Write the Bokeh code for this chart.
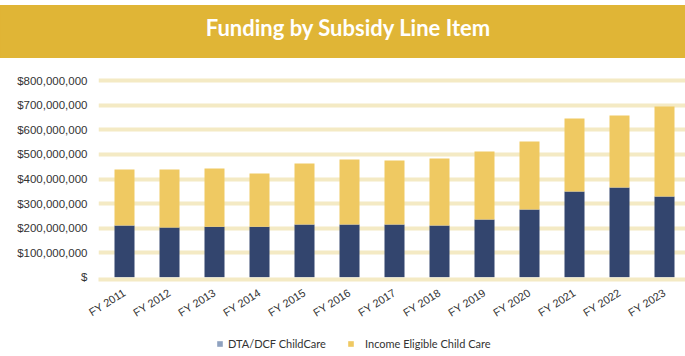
from bokeh.plotting import figure
from bokeh.models import (ColumnDataSource, Range1d, FixedTicker, NumeralTickFormatter,
                          Legend, LegendItem, Spacer)
from bokeh.layouts import column
from bokeh.core.properties import value
from bokeh.embed import file_html
from bokeh.resources import INLINE
import math

# ---- data ----
years = ["FY 2011", "FY 2012", "FY 2013", "FY 2014", "FY 2015", "FY 2016", "FY 2017",
         "FY 2018", "FY 2019", "FY 2020", "FY 2021", "FY 2022", "FY 2023"]
dta_dcf = [211e6, 203e6, 206e6, 206e6, 215e6, 215e6, 215e6, 211e6, 235e6, 276e6, 349e6, 366e6, 329e6]
income_eligible = [228e6, 236e6, 237e6, 216e6, 248e6, 264e6, 260e6, 273e6, 277e6, 277e6, 297e6, 293e6, 366e6]
series_names = ["DTA/DCF ChildCare", "Income Eligible Child Care"]
y_ticks = [0, 1e8, 2e8, 3e8, 4e8, 5e8, 6e8, 7e8, 8e8]
title_text = "Funding by Subsidy Line Item"

BAR_DARK = "#33456E"
BAR_GOLD = "#EFC962"
LEG_BLUE = "#8FA2C0"
BANNER = "#E0B536"
GRID = "#F4EAC4"
TXT = "#333333"

W = 685
LEFT = 98


def strip(height, fill):
    f = figure(width=W, height=height, x_range=Range1d(LEFT, W), y_range=Range1d(0, height),
               toolbar_location=None, output_backend="svg", title=None,
               x_axis_location=None, y_axis_location=None,
               min_border_left=LEFT, min_border_right=0, min_border_top=0, min_border_bottom=0)
    f.grid.visible = False
    f.background_fill_color = fill
    f.border_fill_color = fill
    f.outline_line_color = fill
    f.outline_line_width = 2
    return f


# ---- banner ----
BH = 53
banner = strip(BH, BANNER)
banner.text(x=[348], y=[BH - 22], text=[title_text], text_align="center",
            text_baseline="alphabetic", text_color="white", text_font=value("Lato"),
            text_font_style="bold", text_font_size="22px")

# ---- chart ----
xs = list(range(len(years)))
src = ColumnDataSource(dict(x=xs, dta=dta_dcf, inc=income_eligible))

fw = W - LEFT
x0 = -(124 - LEFT) / 45
p = figure(width=W, height=272, x_range=Range1d(x0, x0 + fw / 45),
           y_range=Range1d(-8.95e6, 841.7e6),
           toolbar_location=None, output_backend="svg",
           min_border_left=LEFT, min_border_right=0, min_border_top=12, min_border_bottom=51)
p.outline_line_color = None
p.background_fill_color = "white"

p.vbar_stack(["dta", "inc"], x="x", width=20 / 45, source=src,
             color=[BAR_DARK, BAR_GOLD], line_color=None)

# y axis
p.yaxis.ticker = FixedTicker(ticks=y_ticks)
p.yaxis.formatter = NumeralTickFormatter(format="$0,0")
p.yaxis.major_label_overrides = {0: "$"}
p.yaxis.axis_line_color = None
p.yaxis.major_tick_line_color = None
p.yaxis.minor_tick_line_color = None
p.yaxis.major_tick_out = 0
p.yaxis.major_label_standoff = 11
p.yaxis.major_label_text_font = "Liberation Sans"
p.yaxis.major_label_text_font_size = "11.5px"
p.yaxis.major_label_text_color = TXT

p.ygrid.ticker = FixedTicker(ticks=y_ticks[1:])
p.ygrid.grid_line_color = GRID
p.ygrid.grid_line_width = 4
p.xgrid.grid_line_color = None

# x axis
p.xaxis.ticker = FixedTicker(ticks=xs)
p.xaxis.major_label_overrides = {i: years[i] for i in xs}
p.xaxis.axis_line_color = GRID
p.xaxis.axis_line_width = 4
p.xaxis.major_tick_line_color = None
p.xaxis.minor_tick_line_color = None
p.xaxis.major_tick_out = 0
p.xaxis.major_label_standoff = 12
p.xaxis.major_label_orientation = 32 * math.pi / 180
p.xaxis.major_label_text_font = "Liberation Sans"
p.xaxis.major_label_text_font_size = "11px"
p.xaxis.major_label_text_color = TXT

# ---- legend strip ----
LH = 26
lg = strip(LH, "white")
r1 = lg.vbar(x=[-10], top=[0], width=0.1, color=LEG_BLUE, line_color=None)
r2 = lg.vbar(x=[-10], top=[0], width=0.1, color=BAR_GOLD, line_color=None)
common = dict(orientation="horizontal", glyph_width=7, glyph_height=7, padding=0, margin=0,
              border_line_color=None, background_fill_alpha=0,
              label_text_font="Lato", label_text_font_size="11px",
              label_text_color=TXT, label_height=7)
leg1 = Legend(items=[LegendItem(label=series_names[0], renderers=[r1])],
              location=(216 - LEFT, 6), label_standoff=5, **common)
leg2 = Legend(items=[LegendItem(label=series_names[1], renderers=[r2])],
              location=(347 - LEFT, 6), label_standoff=11, **common)
lg.add_layout(leg1, "center")
lg.add_layout(leg2, "center")

banner_box = column(banner, spacing=0, styles={"background-color": BANNER})
layout = column(Spacer(height=5, width=W), banner_box, p, lg, spacing=0)
open("out.html", "w").write(file_html(layout, INLINE))
